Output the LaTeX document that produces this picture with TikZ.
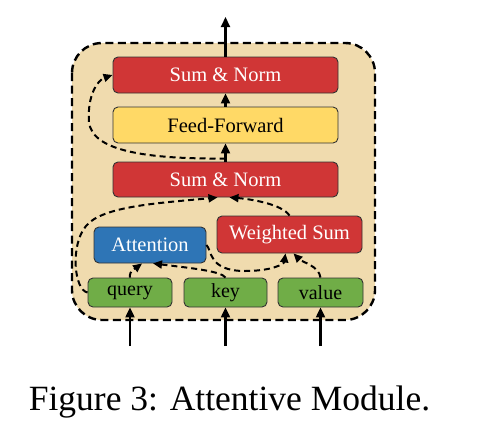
\documentclass[tikz,border=0pt]{standalone}
\usepackage{fontspec}
\setmainfont{Liberation Serif}
\usetikzlibrary{arrows.meta}
\definecolor{bgbeige}{RGB}{240,219,174}
\definecolor{boxred}{RGB}{208,54,54}
\definecolor{boxyellow}{RGB}{255,217,102}
\definecolor{boxblue}{RGB}{46,117,182}
\definecolor{boxgreen}{RGB}{112,173,71}
\begin{document}
\begin{tikzpicture}[x=1pt,y=-1pt,
  blk/.style={draw=black!80,line width=0.9pt,rounded corners=5pt,inner sep=0pt,
    font=\fontsize{20.5}{20.5}\selectfont},
  redblk/.style={blk,fill=boxred,text=white},
  yelblk/.style={blk,fill=boxyellow,text=black},
  blublk/.style={blk,fill=boxblue,text=white},
  grnblk/.style={blk,fill=boxgreen,text=black,font=\fontsize{20}{20}\selectfont},
  solidarrow/.style={line width=2.2pt,-{Triangle[length=10pt,width=9pt]}},
  dasharrow/.style={line width=2pt,dash pattern=on 6pt off 4pt,-{Triangle[length=9pt,width=8pt]}},
]
\useasboundingbox (0,0) rectangle (488,432);
\draw[fill=bgbeige,line width=2.4pt,dash pattern=on 8pt off 4.5pt,rounded corners=30pt] (72,43) rectangle (375,320);

\node[redblk,minimum width=225pt,minimum height=36pt] (topsn) at (225.5,75) {Sum \& Norm};
\node[yelblk,minimum width=225pt,minimum height=36pt] (ff) at (225.5,125) {Feed-Forward};
\node[redblk,minimum width=225pt,minimum height=35pt] (midsn) at (225.5,179.5) {Sum \& Norm};
\node[blublk,minimum width=112pt,minimum height=36pt] (attn) at (150,245) {Attention};
\node[redblk,minimum width=145pt,minimum height=37pt] (ws) at (289.5,234.5) {Weighted Sum};
\node[grnblk,minimum width=84pt,minimum height=29pt] (query) at (130,292.5) {query};
\node[grnblk,minimum width=83pt,minimum height=29pt] (key) at (225.5,292.5) {key};
\node[grnblk,minimum width=85pt,minimum height=29pt] (value) at (320.5,292.5) {value};

\coordinate (inq) at (130,346);
\coordinate (ink) at (225.5,346);
\coordinate (inv) at (320.5,346);
\coordinate (out) at (225.5,17);

\draw[solidarrow] (inq) -- (query);
\draw[solidarrow] (ink) -- (key);
\draw[solidarrow] (inv) -- (value);
\draw[solidarrow] (midsn) -- (ff);
\draw[solidarrow] (ff) -- (topsn);
\draw[solidarrow] (topsn) -- (out);

% residual around feed-forward
\draw[dasharrow] ([yshift=3pt]midsn.north) .. controls (150,159) and (92,152) .. (89,122)
   .. controls (87,95) and (98,80) .. (topsn.west);
% residual from query to sum & norm
\draw[dasharrow] (query.west) .. controls (74,290) and (70,245) .. (86,226)
   .. controls (102,206) and (160,203) .. ([xshift=-8pt]midsn.south);
% weighted sum to sum & norm
\draw[dasharrow] (ws.north) .. controls (282,204) and (250,199) .. ([xshift=4pt]midsn.south);
% query, key to attention
\draw[dasharrow] (query.north) .. controls (129,270) and (136,268) .. ([xshift=-8pt]attn.south);
\draw[dasharrow] (key.north) .. controls (221,271) and (190,268) .. ([xshift=3pt]attn.south);
% attention, value to weighted sum
\draw[dasharrow] (attn.east) .. controls (212,250) and (208,271) .. (245,271)
   .. controls (272,271) and (284,264) .. ([xshift=-4pt]ws.south);
\draw[dasharrow] (value.north) .. controls (319,266) and (302,262) .. ([xshift=4pt]ws.south);

\node[anchor=base,font=\fontsize{35.5}{36}\selectfont,inner sep=0pt] (cap) at (229.5,410.5) {Figure 3: Attentive Module.};
\end{tikzpicture}
\end{document}
